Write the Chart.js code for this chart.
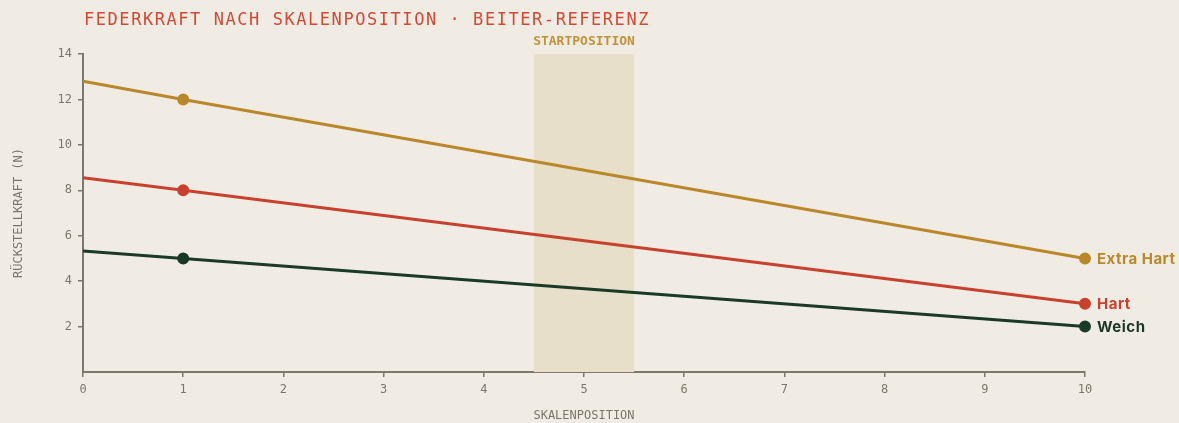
<!DOCTYPE html>
<html>
<head>
<meta charset="utf-8">
<script src="https://cdn.jsdelivr.net/npm/chart.js@4"></script>
<style>
  html, body { margin: 0; padding: 0; background: #f1ece3; }
  #wrap { position: relative; width: 1179px; height: 423px; }
  h1 {
    position: absolute; left: 84px; top: 9px; margin: 0;
    font: 17px "DejaVu Sans Mono", monospace; letter-spacing: 2.2px;
    color: #d04a36; font-weight: normal; white-space: nowrap;
  }
</style>
</head>
<body>
<div id="wrap">
  <h1 id="title">FEDERKRAFT NACH SKALENPOSITION · BEITER-REFERENZ</h1>
  <canvas id="chart" width="1179" height="423"></canvas>
</div>
<script>
// Werte aus dem Bild gelesen
const positions = [0, 1, 10];
const extraHart = [12.8, 12, 5];
const hart = [8.55, 8, 3];
const weich = [5.33, 5, 2];
const seriesNames = ['Extra Hart', 'Hart', 'Weich'];
const seriesColors = ['#b8882b', '#c8412e', '#1b3a25'];
const xTicks = [0, 1, 2, 3, 4, 5, 6, 7, 8, 9, 10];
const yTicks = [2, 4, 6, 8, 10, 12, 14];
const bandRange = [4.5, 5.5];
const bandLabel = 'STARTPOSITION';

const axisColor = '#7b796b';
const tickColor = '#7a7769';
const mono = '"DejaVu Sans Mono", monospace';

// Titelbreite an das Bild anpassen (ca. 566px)
const titleEl = document.getElementById('title');
const titleWidth = titleEl.getBoundingClientRect().width;
const spacing = 2.2 + (566 - titleWidth) / titleEl.textContent.length;
titleEl.style.letterSpacing = spacing + 'px';

function toPoints(values) {
    return positions.map((p, i) => ({ x: p, y: values[i] }));
}

// Band hinter den Linien und Beschriftung am Ende
const extrasPlugin = {
    id: 'extras',
    beforeDatasetsDraw(chart) {
        const ctx = chart.ctx;
        const x = chart.scales.x;
        const area = chart.chartArea;
        const x1 = x.getPixelForValue(bandRange[0]);
        const x2 = x.getPixelForValue(bandRange[1]);
        ctx.save();
        ctx.fillStyle = '#e7dfc9';
        ctx.fillRect(x1, area.top, x2 - x1, area.bottom - area.top);
        ctx.fillStyle = '#c0923a';
        ctx.font = 'bold 13px ' + mono;
        ctx.textAlign = 'center';
        ctx.textBaseline = 'bottom';
        ctx.fillText(bandLabel, (x1 + x2) / 2, area.top - 6);
        ctx.restore();
    },
    afterDatasetsDraw(chart) {
        const ctx = chart.ctx;
        ctx.save();
        ctx.font = 'bold 15px Inter, "Noto Sans", sans-serif';
        ctx.letterSpacing = '0.5px';
        ctx.textBaseline = 'middle';
        chart.data.datasets.forEach((ds, i) => {
            const last = ds.data[ds.data.length - 1];
            const px = chart.scales.x.getPixelForValue(last.x);
            const py = chart.scales.y.getPixelForValue(last.y);
            ctx.fillStyle = seriesColors[i];
            ctx.fillText(seriesNames[i], px + 12, py + 1);
        });
        ctx.restore();
    }
};

const datasets = [extraHart, hart, weich].map((vals, i) => ({
    label: seriesNames[i],
    data: toPoints(vals),
    borderColor: seriesColors[i],
    backgroundColor: seriesColors[i],
    borderWidth: 3,
    pointRadius: [0, 4.5, 4.5],
    pointHoverRadius: 4.5,
    tension: 0,
    clip: false
}));

new Chart(document.getElementById('chart'), {
    type: 'line',
    data: { datasets: datasets },
    plugins: [extrasPlugin],
    options: {
        responsive: false,
        animation: false,
        layout: { padding: { left: 12, right: 94, top: 54, bottom: 0 } },
        plugins: { legend: { display: false }, tooltip: { enabled: false } },
        scales: {
            x: {
                type: 'linear',
                min: 0,
                max: 10,
                afterBuildTicks(scale) { scale.ticks = xTicks.map(v => ({ value: v })); },
                afterFit(scale) { scale.height = 51; },
                border: { color: axisColor, width: 2 },
                grid: { drawOnChartArea: false, color: axisColor, tickLength: 5, lineWidth: 1.5 },
                ticks: { color: tickColor, font: { family: mono, size: 12 }, padding: 6 },
                title: {
                    display: true, text: 'SKALENPOSITION', color: tickColor,
                    font: { family: mono, size: 12 }, padding: { top: 0, bottom: 0 }
                }
            },
            y: {
                min: 0,
                max: 14,
                afterBuildTicks(scale) { scale.ticks = yTicks.map(v => ({ value: v })); },
                afterFit(scale) { scale.width = 71; },
                border: { color: axisColor, width: 2 },
                grid: { drawOnChartArea: false, color: axisColor, tickLength: 5, lineWidth: 1.5 },
                ticks: { color: tickColor, font: { family: mono, size: 12 }, padding: 6 },
                title: {
                    display: true, text: 'RÜCKSTELLKRAFT (N)', color: tickColor,
                    font: { family: mono, size: 12 }, padding: { top: 0, bottom: 0 }
                }
            }
        }
    }
});
</script>
</body>
</html>
